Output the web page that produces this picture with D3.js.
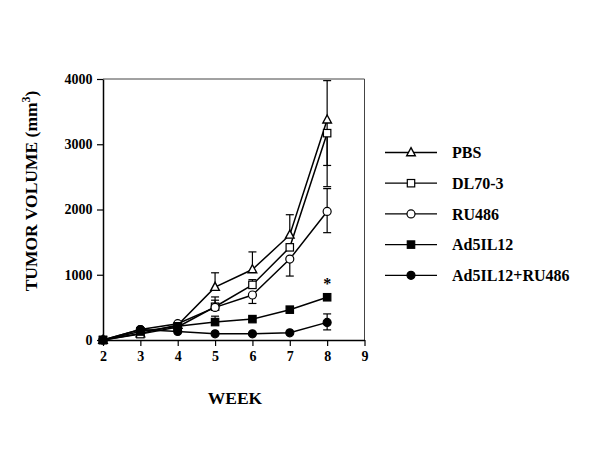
<!DOCTYPE html>
<html><head><meta charset="utf-8">
<script src="https://cdn.jsdelivr.net/npm/d3@7"></script>
<style>body{margin:0;background:#fff}svg{display:block}text{font-family:"Liberation Serif","Times New Roman",serif;font-weight:bold;fill:#000}</style>
</head><body><svg id="c" width="600" height="453"></svg>
<script>
const weeks = [2,3,4,5,6,7,8];
const xTicks = [2,3,4,5,6,7,8,9];
const yTicks = [0,1000,2000,3000,4000];
const seriesNames = ["PBS","DL70-3","RU486","Ad5IL12","Ad5IL12+RU486"];
const pbs      = [0,100,230,810,1080,1610,3375];
const dl703    = [0,90,200,510,845,1420,3170];
const ru486    = [0,160,250,500,690,1240,1970];
const ad5il12  = [0,130,210,275,320,465,655];
const ad5ru    = [0,160,130,95,95,110,270];
const pbsUp    = [0,0,0,220,270,310,600];
const pbsDown  = [0,0,0,0,0,0,700];
const dlUp     = [0,0,0,150,80,0,0];
const dlDown   = [0,0,0,0,0,0,820];
const ruUp     = [0,0,0,110,0,0,350];
const ruDown   = [0,0,0,0,130,260,325];
const adUp     = [0,0,0,90,0,0,0];
const adDown   = [0,0,0,0,0,0,0];
const adruUp   = [0,0,0,0,0,0,130];
const adruDown = [0,0,0,0,0,0,115];
const markers  = ["triangle","square","circle","square","circle"];
const filled   = [false,false,false,true,true];
const starWeek = 8, starValue = 655;

const values = [pbs,dl703,ru486,ad5il12,ad5ru];
const ups = [pbsUp,dlUp,ruUp,adUp,adruUp];
const downs = [pbsDown,dlDown,ruDown,adDown,adruDown];

const svg = d3.select("#c");
const x = d3.scaleLinear().domain([2,9]).range([103,364.5]);
const y = d3.scaleLinear().domain([0,4000]).range([340,79]);

// frame
svg.append("line").attr("x1",x(2)).attr("x2",x(9)).attr("y1",y(4000)).attr("y2",y(4000)).attr("stroke","#444").attr("stroke-width",1);
svg.append("line").attr("x1",x(9)).attr("x2",x(9)).attr("y1",y(4000)).attr("y2",y(0)).attr("stroke","#444").attr("stroke-width",1);

const xa = svg.append("g").attr("transform",`translate(0,${y(0)})`)
  .call(d3.axisBottom(x).tickValues(xTicks).tickFormat(d3.format("d")).tickSize(6).tickSizeOuter(0));
const ya = svg.append("g").attr("transform",`translate(${x(2)},0)`)
  .call(d3.axisLeft(y).tickValues(yTicks).tickFormat(d3.format("d")).tickSize(6).tickSizeOuter(0));
[xa,ya].forEach(a=>{a.select(".domain").attr("stroke","#000").attr("stroke-width",1.5);
  a.selectAll(".tick line").attr("stroke","#000").attr("stroke-width",1.2);
  a.selectAll("text").attr("font-size",14).attr("font-family","Liberation Serif").attr("font-weight","bold").attr("fill","#000");});
xa.selectAll("text").attr("dy","0.85em");
ya.selectAll("text").attr("dx","-0.1em");

svg.append("text").attr("x",235).attr("y",404).attr("text-anchor","middle").attr("font-size",17.5).text("WEEK");
const yt = svg.append("text").attr("transform","translate(37,191) rotate(-90)").attr("text-anchor","middle").attr("font-size",17.5);
yt.append("tspan").text("TUMOR VOLUME (mm");
yt.append("tspan").attr("font-size",12).attr("dy",-7).text("3");
yt.append("tspan").attr("dy",7).text(")");

function drawMarker(g, type, fill, cx, cy){
  const f = fill ? "#000" : "#fff";
  if(type==="triangle"){
    g.append("path").attr("d",`M${cx},${cy-4.8}L${cx+4.3},${cy+3.2}L${cx-4.3},${cy+3.2}Z`).attr("fill",f).attr("stroke","#000").attr("stroke-width",1.4);
  } else if(type==="square"){
    g.append("rect").attr("x",cx-3.7).attr("y",cy-3.7).attr("width",7.4).attr("height",7.4).attr("fill",f).attr("stroke","#000").attr("stroke-width",1.2);
  } else {
    g.append("circle").attr("cx",cx).attr("cy",cy).attr("r",4).attr("fill",f).attr("stroke","#000").attr("stroke-width",1.2);
  }
}

const line = d3.line().x((d,i)=>x(weeks[i])).y(d=>y(d));
values.forEach((vals,s)=>{
  const g = svg.append("g");
  vals.forEach((v,i)=>{
    const cx = x(weeks[i]);
    [[ups[s][i],1],[downs[s][i],-1]].forEach(([e,sg])=>{
      if(e>0){
        const ey = y(v+sg*e);
        g.append("line").attr("x1",cx).attr("x2",cx).attr("y1",y(v)).attr("y2",ey).attr("stroke","#000").attr("stroke-width",1.2);
        g.append("line").attr("x1",cx-4).attr("x2",cx+4).attr("y1",ey).attr("y2",ey).attr("stroke","#000").attr("stroke-width",1.2);
      }
    });
  });
});
values.forEach(vals=>{
  svg.append("path").attr("d",line(vals)).attr("fill","none").attr("stroke","#000").attr("stroke-width",1.5);
});
values.forEach((vals,s)=>{
  const g = svg.append("g");
  vals.forEach((v,i)=>drawMarker(g,markers[s],filled[s],x(weeks[i]),y(v)));
});
svg.append("text").attr("x",x(starWeek)).attr("y",y(starValue)-8).attr("text-anchor","middle").attr("font-size",16).text("*");

seriesNames.forEach((n,i)=>{
  const ly = 152.5 + i*30.7;
  const g = svg.append("g");
  g.append("line").attr("x1",385).attr("x2",437).attr("y1",ly).attr("y2",ly).attr("stroke","#000").attr("stroke-width",1.3);
  drawMarker(g,markers[i],filled[i],411,ly);
  g.append("text").attr("x",452).attr("y",ly).attr("dy","0.35em").attr("font-size",16).text(n);
});
</script></body></html>
